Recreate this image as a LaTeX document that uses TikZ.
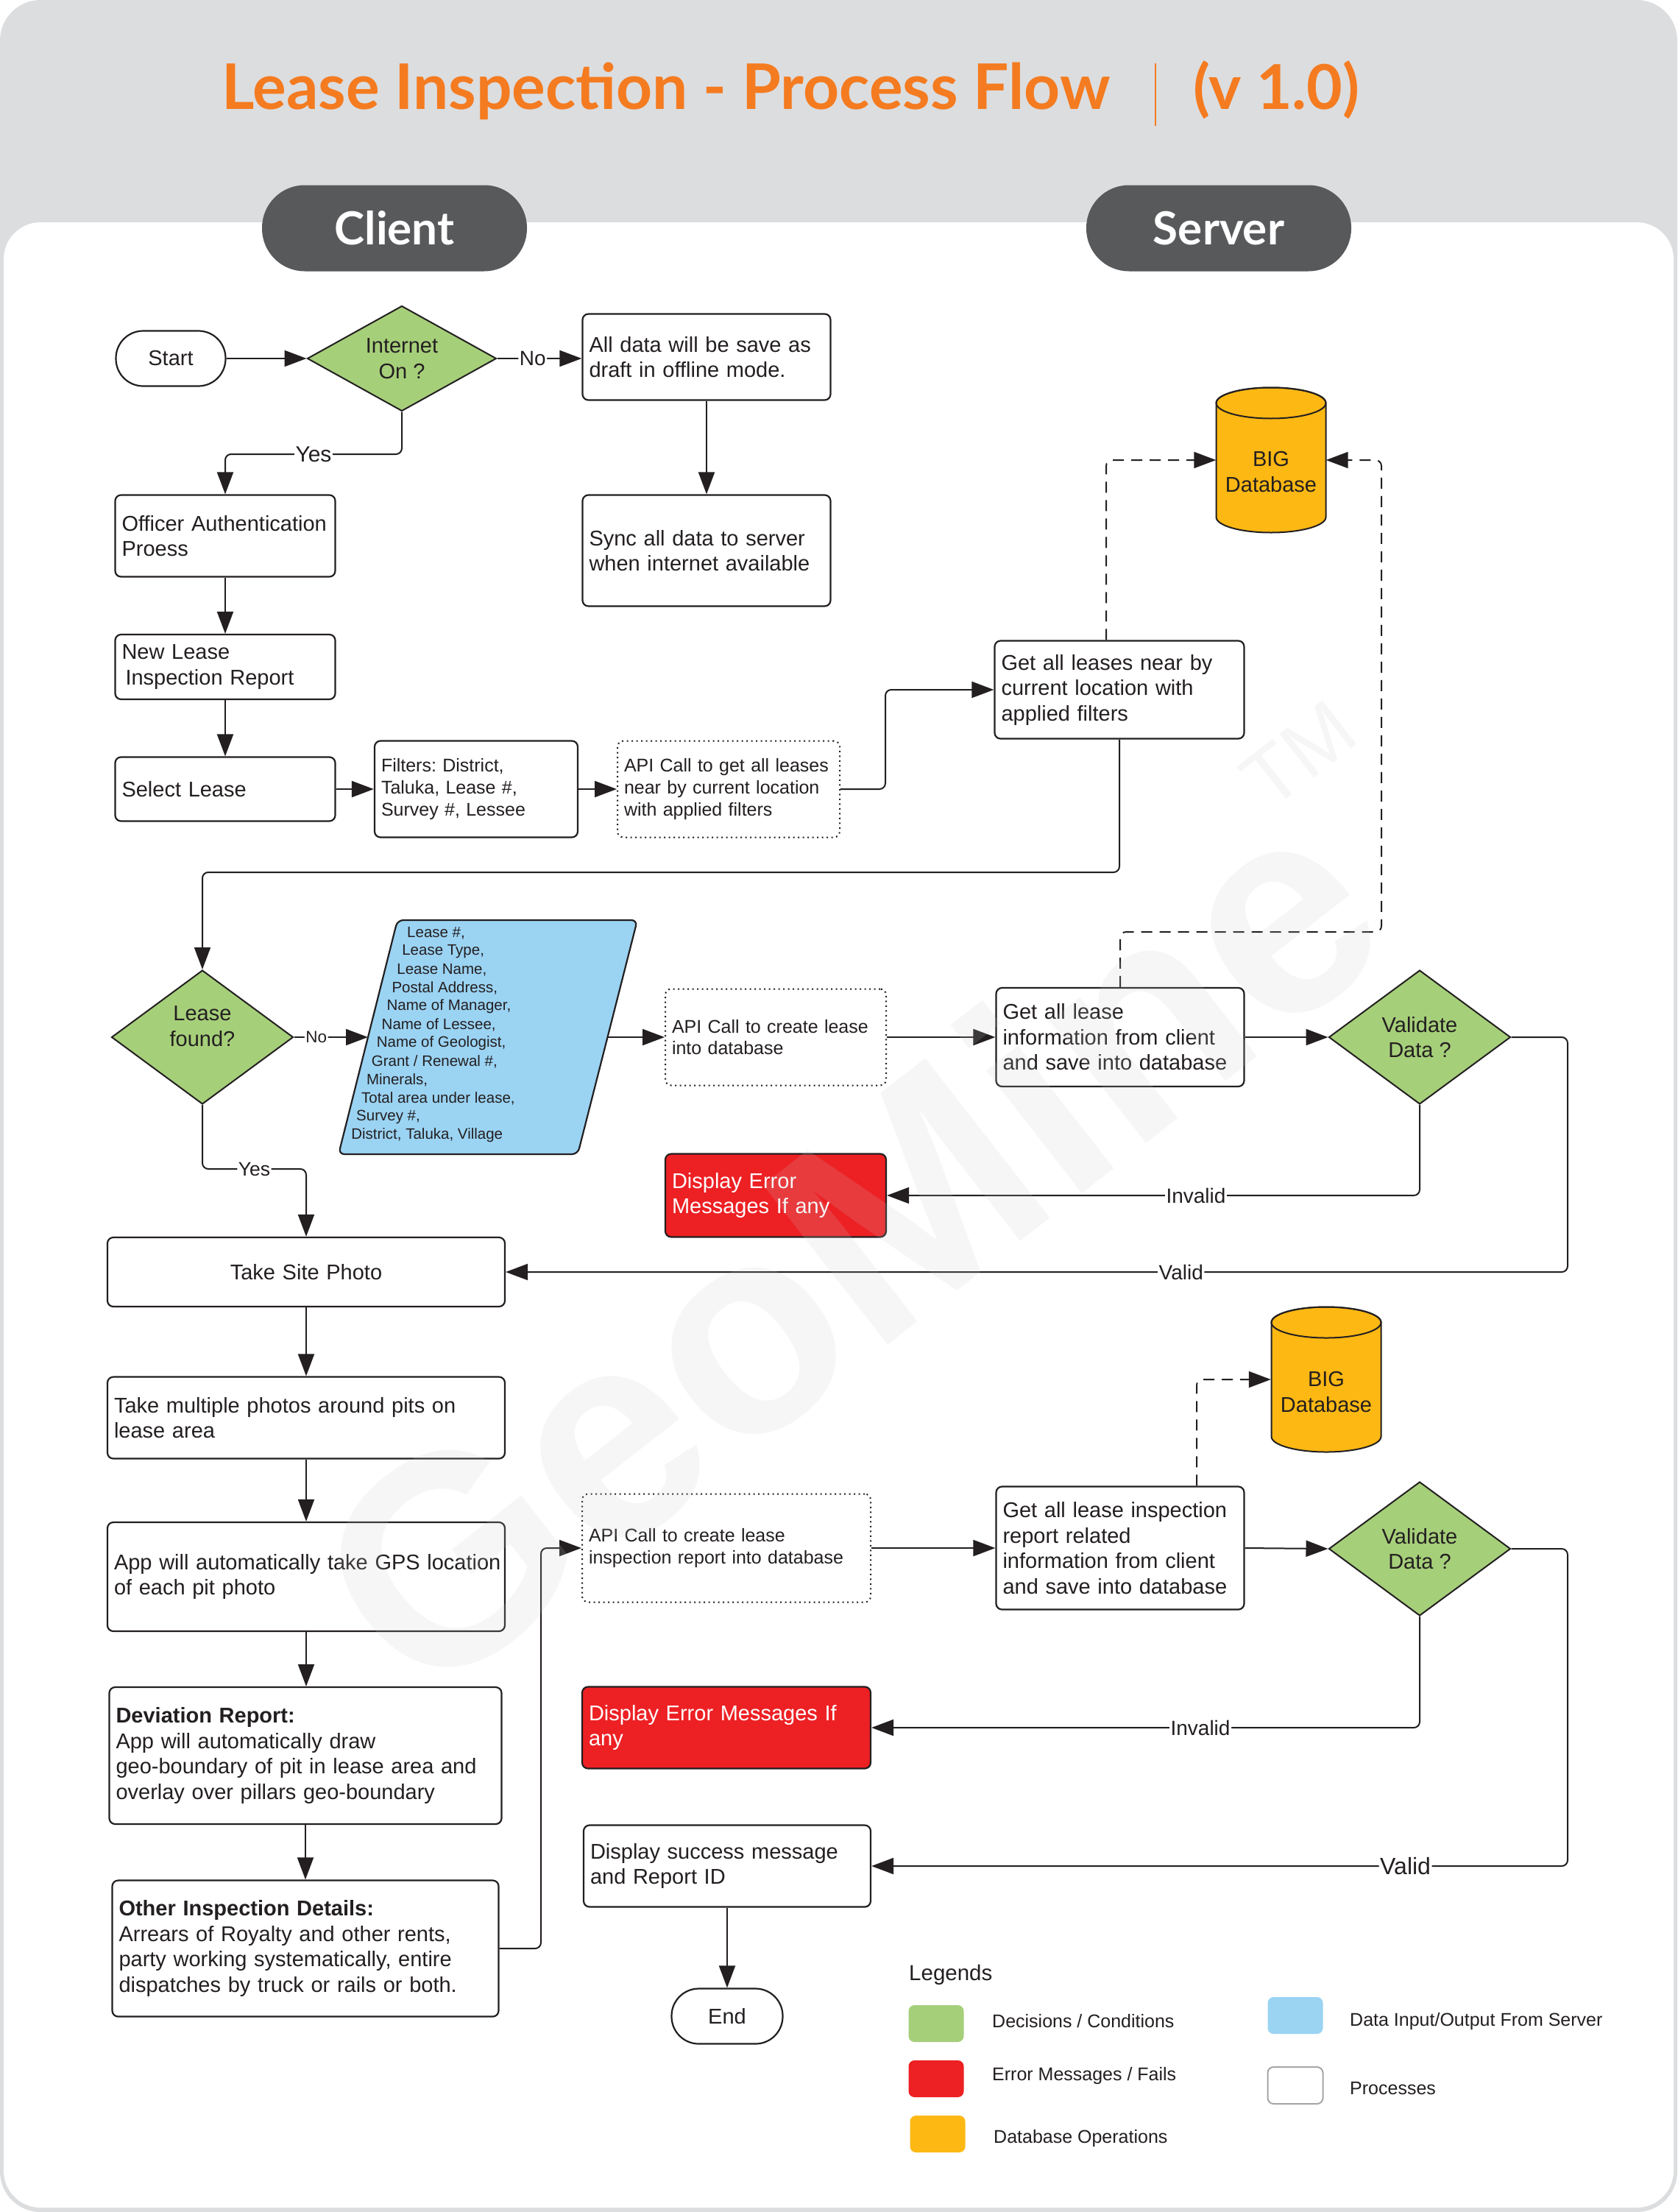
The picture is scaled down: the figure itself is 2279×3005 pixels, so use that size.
\documentclass[tikz,border=0pt]{standalone}
\usepackage{fontspec}
\setmainfont{Liberation Sans}
\newfontfamily\titlefont{Lato}
\usetikzlibrary{shapes.geometric,arrows.meta}
\frenchspacing
\definecolor{bggray}{HTML}{DCDDDF}
\definecolor{txt}{HTML}{231F20}
\definecolor{decgreen}{HTML}{A6CF7A}
\definecolor{errred}{HTML}{ED2024}
\definecolor{dbyellow}{HTML}{FDB813}
\definecolor{ioblue}{HTML}{9BD3F3}
\definecolor{pillgray}{HTML}{58595B}
\definecolor{titleorange}{HTML}{F47B20}
\definecolor{wmgray}{HTML}{C8C8C8}
\newcommand\fmain{\fontsize{29}{34.5}\selectfont}
\newcommand\fsmall{\fontsize{25}{29.7}\selectfont}
\newcommand\ftiny{\fontsize{20.5}{24.9}\selectfont}
\newcommand\flbl{\fontsize{28}{30}\selectfont}
\newcommand\dbcyl[2]{%
  \draw[draw=txt, line width=2pt, fill=dbyellow] (#1-74.5,#2-77.5) -- (#1-74.5,#2+77.5)
    arc[start angle=180,end angle=360,x radius=74.5pt,y radius=21pt]
    -- (#1+74.5,#2-77.5)
    arc[start angle=0,end angle=180,x radius=74.5pt,y radius=21pt] -- cycle;
  \draw[draw=txt, line width=2pt] (#1,#2-77.5) ellipse[x radius=74.5pt, y radius=21pt];
}
\newcommand\pline[2]{\node[anchor=west, font=\ftiny, text=txt, inner sep=0pt] (pl#1) at ({553-6.9*#1},{1268+24.9*#1}) {#2};}
\tikzset{
  base/.style={draw=txt, line width=2.2pt, rounded corners=8pt, fill=white, text=txt,
    font=\fmain, align=left, inner xsep=9pt, inner ysep=0pt},
  proc/.style n args={3}{base, minimum width=#1pt, minimum height=#2pt, text width=#3pt},
  dotted box/.style={line width=2pt, dash pattern=on 2pt off 4.5pt},
  errbox/.style={fill=errred, text=white},
  pill/.style={base, rounded corners=37pt, align=center, minimum width=149pt, minimum height=75pt, inner sep=0pt},
  dia/.style={diamond, draw=txt, line width=2pt, fill=decgreen, text=txt, font=\fmain,
    align=center, inner sep=0pt},
  conn/.style={draw=txt, line width=2pt, rounded corners=8pt, -{Triangle[length=30pt,width=22pt]}},
  dconn/.style={conn, dash pattern=on 15pt off 10pt},
  lbl/.style={fill=white, inner sep=1.5pt, text=txt, font=\flbl},
  lane/.style={fill=pillgray, rounded corners=58pt, minimum width=360pt, minimum height=117pt,
    text=white, font=\titlefont\bfseries\fontsize{62}{62}\selectfont, inner sep=0pt},
  legsq/.style={rounded corners=8pt, minimum width=75pt, minimum height=50pt, inner sep=0pt},
  legtxt/.style={anchor=west, text=txt, font=\fsmall, inner sep=0pt},
}
\begin{document}
\begin{tikzpicture}[x=1pt,y=-1pt]
\useasboundingbox (0,0) rectangle (2279,3005);
% background
\fill[bggray, rounded corners=55pt] (0,0) rectangle (2279,3005);
\fill[white, rounded corners=50pt] (5,302) rectangle (2274,2999);

% title
\node[anchor=base west, inner sep=0pt, text=titleorange, font=\titlefont\bfseries\fontsize{85.5}{86}\selectfont] (title) at (301,149) {Lease Inspection - Process Flow};
\draw[titleorange, line width=2.5pt] (1570,86) -- (1570,171);
\node[anchor=base west, inner sep=0pt, text=titleorange, font=\titlefont\bfseries\fontsize{84}{84}\selectfont] (version) at (1621,149) {(v 1.0)};

\node[lane] (client) at (536,310) {Client};
\node[lane] (server) at (1656,310) {Server};

% nodes
\node[pill] (start) at (232,487) {Start};
\node[dia, aspect=1.8, minimum width=257pt, minimum height=143pt] (internet) at (546,487) {Internet\\On ?};
\node[proc={337}{117}{319}] (alldata) at (960,485) {All data will be save as\\draft in offline mode.};
\node[proc={337}{151}{319}] (sync) at (960,748) {Sync all data to server\\when internet available};
\node[proc={299}{111}{281}] (officer) at (306,728) {\mbox{Officer Authentication}\\Proess};
\node[proc={299}{88}{281}] (newlease) at (306,906) {New Lease\\\hspace*{5pt}Inspection Report};
\node[proc={299}{87}{281}] (select) at (306,1072) {Select Lease};
\node[proc={276}{131}{258}, font=\fsmall] (filters) at (647,1072) {Filters: District,\\Taluka, Lease \#,\\Survey \#, Lessee};
\node[proc={302}{131}{284}, font=\fsmall, dotted box] (apiget) at (990,1072) {\mbox{API Call to get all leases}\\near by current location\\with applied filters};
\node[proc={339}{133}{321}] (getnear) at (1521,937) {Get all leases near by\\current location with\\applied filters};

\dbcyl{1727}{625}
\node[minimum width=149pt, minimum height=165pt, align=center, font=\fmain, text=txt, inner sep=0pt] (db1) at (1727,641) {BIG\\Database};

\node[dia, aspect=1.36, minimum width=247pt, minimum height=182pt,
  label={[yshift=15pt, align=center, font=\fmain, text=txt, inner sep=0pt]center:Lease\\found?}] (leasefound) at (275,1409) {};

% parallelogram (data input/output)
\draw[draw=txt, line width=2.2pt, fill=ioblue, rounded corners=8pt] (540,1250) -- (866,1250) -- (785,1568) -- (460,1568) -- cycle;
\coordinate (paraW) at (500,1409);
\coordinate (paraE) at (825.5,1409);
\pline{0}{Lease \#,}
\pline{1}{Lease Type,}
\pline{2}{Lease Name,}
\pline{3}{Postal Address,}
\pline{4}{Name of Manager,}
\pline{5}{Name of Lessee,}
\pline{6}{Name of Geologist,}
\pline{7}{Grant / Renewal \#,}
\pline{8}{Minerals,}
\pline{9}{Total area under lease,}
\pline{10}{Survey \#,}
\pline{11}{District, Taluka, Village}

\node[proc={300}{131}{282}, font=\fsmall, dotted box] (apicreate) at (1054,1409) {API Call to create lease\\into database};
\node[proc={337}{134}{319}] (getinfo) at (1522,1409) {Get all lease\\information from client\\and save into database};
\node[dia, aspect=1.36, minimum width=247pt, minimum height=182pt] (validate1) at (1929,1409) {Validate\\Data ?};
\node[proc={300}{113}{282}, errbox] (err1) at (1054,1624) {Display Error\\Messages If any};

\node[proc={540}{94}{522}, align=center] (sitephoto) at (416,1728) {Take Site Photo};
\node[proc={540}{111}{522}] (multi) at (416,1926) {\mbox{Take multiple photos around pits on}\\lease area};
\node[proc={540}{148}{522}] (gps) at (416,2142) {\mbox{App will automatically take GPS location}\\of each pit photo};
\node[proc={533}{186}{515}] (deviation) at (415,2385) {\textbf{Deviation Report:}\\App will automatically draw\\\mbox{geo-boundary of pit in lease area and}\\overlay over pillars geo-boundary};
\node[proc={525}{185}{507}] (other) at (415,2647) {\textbf{Other Inspection Details:}\\Arrears of Royalty and other rents,\\party working systematically, entire\\dispatches by truck or rails or both.};

\node[proc={392}{147}{374}, font=\fsmall, dotted box] (apiinsp) at (987,2103) {API Call to create lease\\inspection report into database};
\node[proc={337}{167}{319}] (getinsp) at (1522,2103) {Get all lease inspection\\report related\\information from client\\and save into database};
\dbcyl{1802}{1874}
\node[minimum width=150pt, minimum height=165pt, align=center, font=\fmain, text=txt, inner sep=0pt] (db2) at (1802,1891) {BIG\\Database};
\node[dia, aspect=1.36, minimum width=247pt, minimum height=182pt] (validate2) at (1929,2104) {Validate\\Data ?};
\node[proc={392}{111}{374}, errbox] (err2) at (987,2347) {Display Error Messages If\\any};
\node[proc={390}{111}{372}] (success) at (988,2535) {Display success message\\and Report ID};
\node[pill, minimum width=151pt] (end) at (988,2739) {End};

% connectors
\draw[conn] (start.east) -- (internet.west);
\draw[conn] (internet.east) -- node[lbl,pos=0.42]{No} (alldata.west |- internet.east);
\draw[conn] (internet.south) |- node[lbl,pos=0.75,font=\fontsize{30}{32}\selectfont]{Yes} (306,617) -- (officer.north);
\draw[conn] (alldata.south) -- (sync.north);
\draw[conn] (officer.south) -- (newlease.north);
\draw[conn] (newlease.south) -- (select.north);
\draw[conn] (select.east) -- (filters.west);
\draw[conn] (filters.east) -- (apiget.west);
\draw[conn] (apiget.east) -- (1203,1072) |- (getnear.west);
\draw[dconn] ([xshift=-18pt]getnear.north) |- ([yshift=16pt]db1.west);
\draw[conn] (getnear.south) -- (1521,1185) -| (leasefound.north);
\draw[dconn] (getinfo.north) |- (1877,1266) |- ([yshift=16pt]db1.east);
\draw[conn] (leasefound.east) -- node[lbl,pos=0.3,font=\fontsize{22.5}{24}\selectfont]{No} (paraW);
\draw[conn] (paraE) -- (apicreate.west);
\draw[conn] (apicreate.east) -- (getinfo.west);
\draw[conn] (getinfo.east) -- (validate1.west);
\draw[conn] (validate1.south) |- node[lbl,pos=0.71]{Invalid} (err1.east);
\draw[conn] (validate1.east) -| (2130,1728) -- node[lbl,pos=0.364]{Valid} (sitephoto.east);
\draw[conn] (leasefound.south) |- node[lbl,pos=0.75,font=\fontsize{26.5}{28}\selectfont]{Yes} (416,1588) -- (sitephoto.north);
\draw[conn] (sitephoto.south) -- (multi.north);
\draw[conn] (multi.south) -- (gps.north);
\draw[conn] (gps.south) -- (gps.south |- deviation.north);
\draw[conn] (deviation.south) -- (other.north);
\draw[conn] (other.east) -- (735,2647) |- (apiinsp.west);
\draw[conn] (apiinsp.east) -- (getinsp.west);
\draw[dconn] ([xshift=104pt]getinsp.north) |- ([yshift=17pt]db2.west);
\draw[conn] (getinsp.east) -- (validate2.west);
\draw[conn] (validate2.south) |- node[lbl,pos=0.70]{Invalid} (err2.east);
\draw[conn] (validate2.east) -| (2130,2535) -- node[lbl,pos=0.233,font=\fontsize{32}{34}\selectfont]{Valid} (success.east);
\draw[conn] (success.south) -- (end.north);

% legend
\node[anchor=west, text=txt, font=\fontsize{29.5}{31}\selectfont, inner sep=0pt] (legtitle) at (1235,2683) {Legends};
\node[legsq, fill=decgreen] (lg1) at (1272,2749) {};
\node[legsq, fill=errred] (lg2) at (1272,2824) {};
\node[legsq, fill=dbyellow] (lg3) at (1274,2899) {};
\node[legsq, fill=ioblue] (lg4) at (1760,2738) {};
\node[legsq, fill=white, draw=gray!70, line width=2pt] (lg5) at (1760,2833) {};
\node[legtxt] (lt1) at (1348,2746) {Decisions / Conditions};
\node[legtxt] (lt2) at (1348,2820) {Error Messages / Fails};
\node[legtxt] (lt3) at (1350,2905) {Database Operations};
\node[legtxt] (lt4) at (1834,2746) {Data Input/Output From Server};
\node[legtxt] (lt5) at (1834,2837) {Processes};

% watermark
\node[rotate=38, text=wmgray, text opacity=0.16, font=\bfseries\fontsize{400}{400}\selectfont, inner sep=0pt] (wmark) at (1150,1690) {GeoMine};
\node[rotate=38, text=wmgray, text opacity=0.16, font=\fontsize{110}{110}\selectfont, inner sep=0pt] (wmtm) at (1765,1025) {TM};
\end{tikzpicture}
\end{document}
